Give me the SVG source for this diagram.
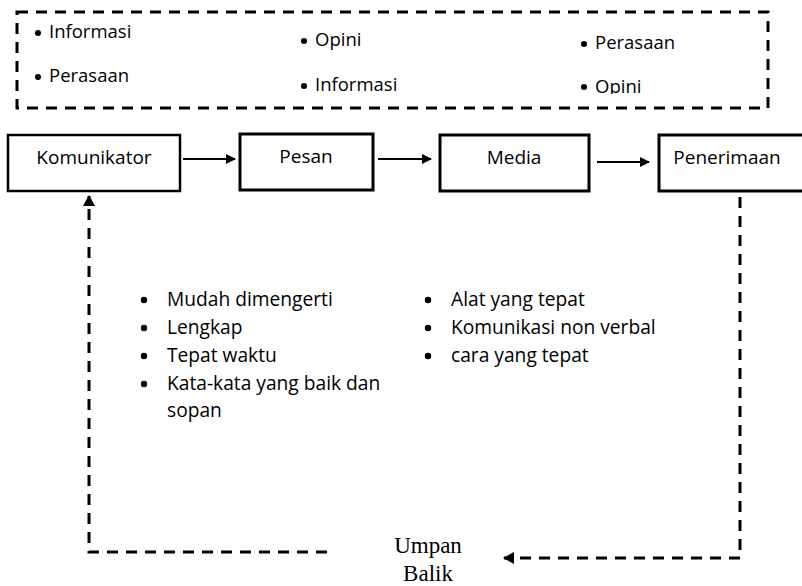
<svg xmlns="http://www.w3.org/2000/svg" width="802" height="586" viewBox="0 0 802 586">
  <style>
    .box { fill: #fff; stroke: #000; stroke-width: 2.5; }
    .lbl { font-family: "Open Sans", "Noto Sans", sans-serif; font-size: 19px; fill: #000; }
    .top { font-family: "Open Sans", "Noto Sans", sans-serif; font-size: 18.5px; fill: #000; }
    .lst { font-family: "Open Sans", "Noto Sans", sans-serif; font-size: 19.2px; fill: #000; }
    .serif { font-family: "Liberation Serif", "Times New Roman", serif; font-size: 23px; fill: #000; }
    .solid { stroke: #000; stroke-width: 2; fill: none; }
    .dash { stroke: #000; stroke-width: 3; fill: none; stroke-dasharray: 11 8; }
  </style>
  <defs>
    <marker id="arrow" markerWidth="10" markerHeight="10" refX="9" refY="5" orient="auto" markerUnits="userSpaceOnUse">
      <path d="M0,0 L10,5 L0,10 Z" fill="#000"/>
    </marker>
    <marker id="arrowD" markerWidth="12" markerHeight="12" refX="10" refY="6" orient="auto" markerUnits="userSpaceOnUse">
      <path d="M0,0 L11,6 L0,12 Z" fill="#000"/>
    </marker>
    <clipPath id="topClip">
      <rect x="0" y="0" width="802" height="94"/>
    </clipPath>
  </defs>

  <rect width="802" height="586" fill="#fff"/>

  <!-- dashed frame with the content categories -->
  <g id="categories">
    <rect x="17" y="12" width="751" height="96" class="dash"/>
    <g clip-path="url(#topClip)">
      <circle cx="38" cy="33" r="3"/>
      <text x="49" y="38" class="top">Informasi</text>
      <circle cx="38" cy="77" r="3"/>
      <text x="49" y="82" class="top">Perasaan</text>
      <circle cx="304" cy="41" r="3"/>
      <text x="315" y="46" class="top">Opini</text>
      <circle cx="304" cy="86" r="3"/>
      <text x="315" y="91" class="top">Informasi</text>
      <circle cx="584" cy="44" r="3"/>
      <text x="595" y="49" class="top">Perasaan</text>
      <circle cx="584" cy="87" r="3"/>
      <text x="595" y="93" class="top">Opini</text>
    </g>
  </g>

  <!-- process nodes -->
  <g id="komunikator">
    <rect x="8" y="135" width="172" height="56" class="box"/>
    <text x="94" y="164" class="lbl" text-anchor="middle">Komunikator</text>
  </g>
  <g id="pesan">
    <rect x="240" y="134" width="133" height="56" class="box" style="stroke-width:3"/>
    <text x="306" y="163" class="lbl" text-anchor="middle">Pesan</text>
  </g>
  <g id="media">
    <rect x="440" y="135" width="149" height="56" class="box" style="stroke-width:3"/>
    <text x="514" y="164" class="lbl" text-anchor="middle">Media</text>
  </g>
  <g id="penerimaan">
    <rect x="659" y="135" width="160" height="56" class="box" style="stroke-width:3"/>
    <text x="727" y="164" class="lbl" text-anchor="middle">Penerimaan</text>
  </g>

  <!-- connectors -->
  <g id="connectors">
    <line x1="183" y1="159" x2="235" y2="159" class="solid" marker-end="url(#arrow)"/>
    <line x1="378" y1="159" x2="431" y2="159" class="solid" marker-end="url(#arrow)"/>
    <line x1="597" y1="162" x2="649" y2="162" class="solid" marker-end="url(#arrow)"/>
    <!-- feedback loop -->
    <polyline points="740,197 740,558 504,558" class="dash" marker-end="url(#arrowD)"/>
    <polyline points="327,552 89,552 89,196" class="dash" marker-end="url(#arrowD)"/>
  </g>

  <g id="umpan-balik">
    <text x="428" y="553" class="serif" text-anchor="middle">Umpan</text>
    <text x="428" y="581" class="serif" text-anchor="middle">Balik</text>
  </g>

  <!-- message qualities -->
  <g id="list-pesan">
    <circle cx="144" cy="300" r="3.2"/>
    <text x="167" y="306" class="lst">Mudah dimengerti</text>
    <circle cx="144" cy="328" r="3.2"/>
    <text x="167" y="334" class="lst">Lengkap</text>
    <circle cx="144" cy="356" r="3.2"/>
    <text x="167" y="362" class="lst">Tepat waktu</text>
    <circle cx="144" cy="384" r="3.2"/>
    <text x="167" y="390" class="lst">Kata-kata yang baik dan</text>
    <text x="167" y="417" class="lst">sopan</text>
  </g>

  <!-- media qualities -->
  <g id="list-media">
    <circle cx="428" cy="300" r="3.2"/>
    <text x="451" y="306" class="lst">Alat yang tepat</text>
    <circle cx="428" cy="328" r="3.2"/>
    <text x="451" y="334" class="lst">Komunikasi non verbal</text>
    <circle cx="428" cy="356" r="3.2"/>
    <text x="451" y="362" class="lst">cara yang tepat</text>
  </g>
</svg>
